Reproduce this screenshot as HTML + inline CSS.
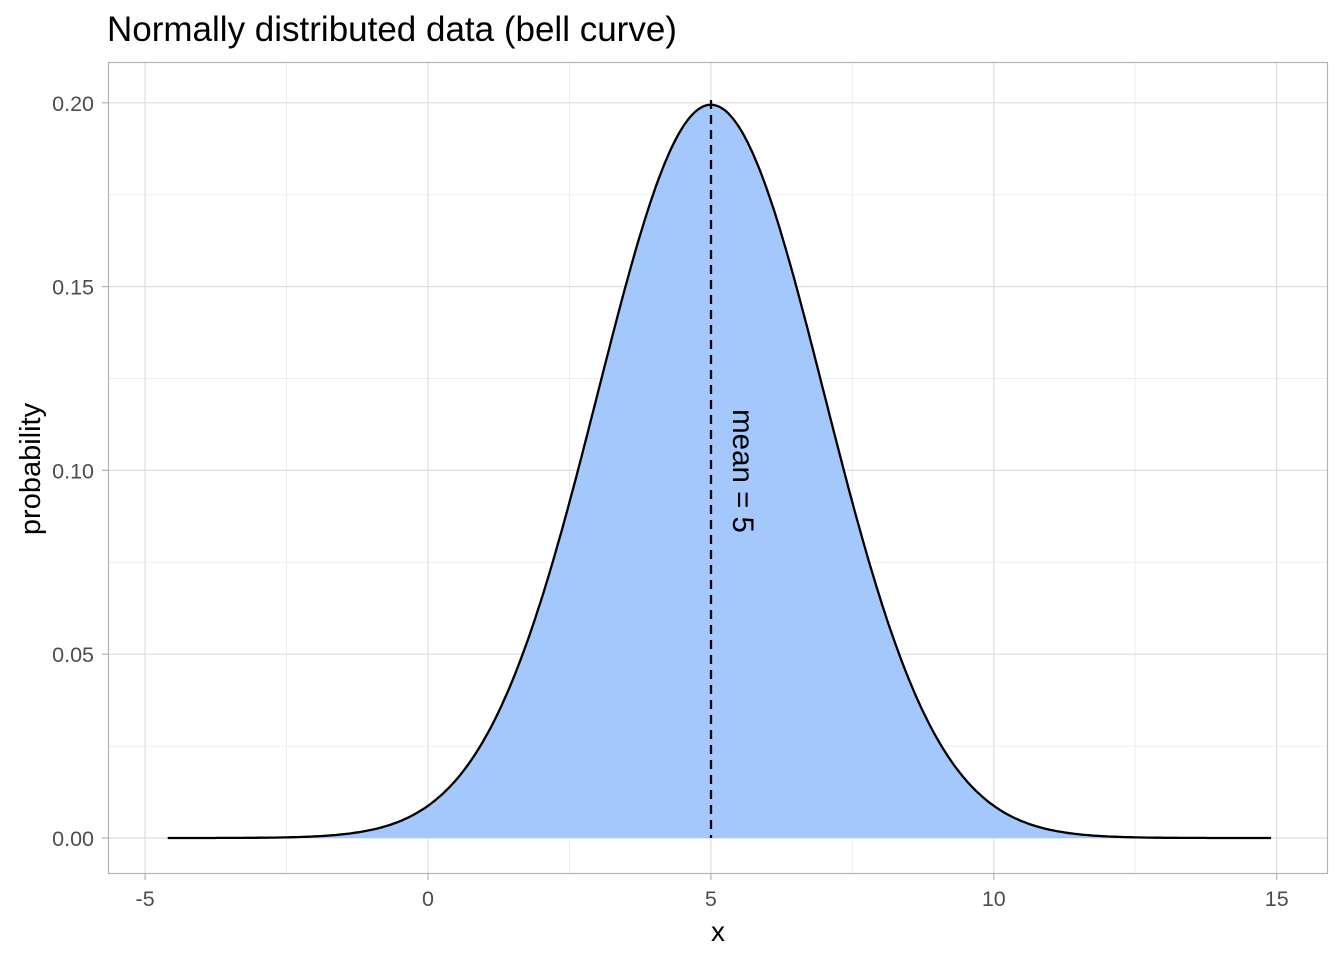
<!DOCTYPE html>
<html><head><meta charset="utf-8"><style>body{margin:0;background:#fff}svg{display:block}</style></head>
<body>
<svg id="s" width="1344" height="960" xmlns="http://www.w3.org/2000/svg" font-family="Liberation Sans, sans-serif">
<rect width="1344" height="960" fill="#fff"/>
<g id="grid"></g>
<path id="area" fill="#a4c8fb" stroke="none"/>
<path id="line" fill="none" stroke="#000" stroke-width="2.3"/>
<line x1="711" y1="100" x2="711" y2="838" stroke="#000" stroke-width="2.3" stroke-dasharray="9,6"/>
<text transform="translate(733,471) rotate(90)" text-anchor="middle" font-size="29.5" fill="#000">mean = 5</text>
<rect x="108.5" y="62.5" width="1219" height="811" fill="none" stroke="#b3b3b3" stroke-width="1.2"/>
<g id="ticks" font-size="21.5" fill="#4d4d4d"></g>
<text x="107" y="41" font-size="35" fill="#000">Normally distributed data (bell curve)</text>
<text x="718" y="941" font-size="28" text-anchor="middle" fill="#000">x</text>
<text transform="translate(40,469) rotate(-90)" font-size="29" text-anchor="middle" fill="#000">probability</text>
</svg>
<script>
const X=v=>428+v*56.58, Y=v=>838-v*3676;
const ns="http://www.w3.org/2000/svg";
const g=document.getElementById('grid'), t=document.getElementById('ticks');
function ln(p,x1,y1,x2,y2,c,w){const l=document.createElementNS(ns,'line');l.setAttribute('x1',x1);l.setAttribute('y1',y1);l.setAttribute('x2',x2);l.setAttribute('y2',y2);l.setAttribute('stroke',c);l.setAttribute('stroke-width',w);p.appendChild(l);}
function tx(s,x,y,a){const e=document.createElementNS(ns,'text');e.setAttribute('x',x);e.setAttribute('y',y);e.setAttribute('text-anchor',a);e.textContent=s;t.appendChild(e);}
[-2.5,2.5,7.5,12.5].forEach(v=>ln(g,X(v),62,X(v),874,'#ededed',1));
[0.025,0.075,0.125,0.175].forEach(v=>ln(g,108,Y(v),1328,Y(v),'#ededed',1));
[-5,0,5,10,15].forEach(v=>{ln(g,X(v),62,X(v),874,'#dedede',1.2);ln(t,X(v),874,X(v),880,'#b3b3b3',1.2);tx(String(v),X(v),906,'middle');});
[0,0.05,0.1,0.15,0.2].forEach(v=>{ln(g,108,Y(v),1328,Y(v),'#dedede',1.2);ln(t,102,Y(v),108,Y(v),'#b3b3b3',1.2);tx(v.toFixed(2),94,Y(v)+8,'end');});
let d='';for(let i=0;i<=400;i++){const x=-4.6+i*(19.5/400);const y=Math.exp(-((x-5)**2)/8)/(2*Math.sqrt(2*Math.PI));d+=(i?'L':'M')+X(x).toFixed(1)+','+Y(y).toFixed(1);}
document.getElementById('line').setAttribute('d',d);
document.getElementById('area').setAttribute('d',d+'L'+X(14.9)+','+Y(0)+'L'+X(-4.6)+','+Y(0)+'Z');
</script>
</body></html>
